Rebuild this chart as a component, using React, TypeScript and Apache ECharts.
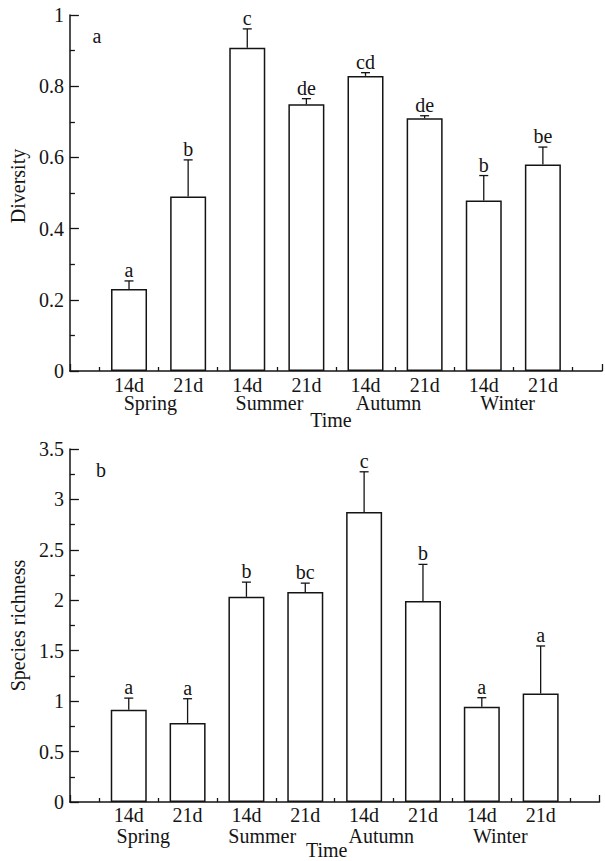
import React, { useEffect, useRef } from "react";
import * as echarts from "echarts";

const timeLabels = ["14d", "21d", "14d", "21d", "14d", "21d", "14d", "21d"];
const seasons = ["Spring", "Summer", "Autumn", "Winter"];

const diversityMean = [0.23, 0.49, 0.908, 0.749, 0.829, 0.71, 0.479, 0.58];
const diversityErr = [0.023, 0.103, 0.053, 0.016, 0.009, 0.007, 0.07, 0.049];
const diversityLetters = ["a", "b", "c", "de", "cd", "de", "b", "be"];
const diversityTicks = [0, 0.2, 0.4, 0.6, 0.8, 1];

const richnessMean = [0.915, 0.784, 2.034, 2.083, 2.876, 1.994, 0.945, 1.076];
const richnessErr = [0.115, 0.24, 0.146, 0.087, 0.398, 0.362, 0.089, 0.471];
const richnessLetters = ["a", "a", "b", "bc", "c", "b", "a", "a"];
const richnessTicks = [0, 0.5, 1, 1.5, 2, 2.5, 3, 3.5];

const FONT = "Liberation Serif";
const INK = "#141414";
const FS = 20;
const LH = 16;

// panel layout (pixels)
const panels = [
  { left: 66, top: 15, width: 536, height: 356, labelMargin: 6, seasonOffset: 18, nameGap: 39, namePad: [0, 10, 0, 0], seasonShift: -5 },
  { left: 64, top: 449, width: 535.5, height: 354.7, labelMargin: 5, seasonOffset: 18, nameGap: 38, namePad: [0, 16, 0, 0], seasonShift: -10 },
];
const SLOTS = timeLabels.length + 1;

function timeAxis(gridIndex: number, p: any) {
  return {
    type: "value",
    gridIndex,
    min: 0,
    max: SLOTS,
    interval: 1,
    axisLine: { show: true, onZero: false, lineStyle: { color: INK, width: 1.5 } },
    axisTick: { show: true, inside: true, length: 7, lineStyle: { color: INK, width: 1.3 } },
    minorTick: { show: true, splitNumber: 2, length: 4, lineStyle: { color: INK, width: 1.3 } },
    splitLine: { show: false },
    minorSplitLine: { show: false },
    axisLabel: {
      show: true,
      margin: p.labelMargin,
      color: INK,
      fontFamily: FONT,
      fontSize: FS,
      lineHeight: LH,
      formatter: (v: number) => {
        const i = Math.round(v) - 1;
        return i >= 0 && i < timeLabels.length ? timeLabels[i] : "";
      },
    },
    name: "Time",
    nameLocation: "middle",
    nameGap: p.nameGap,
    nameTextStyle: { color: INK, fontFamily: FONT, fontSize: FS, padding: p.namePad },
  };
}

function seasonAxis(gridIndex: number, p: any) {
  return {
    type: "category",
    gridIndex,
    data: seasons,
    boundaryGap: true,
    position: "bottom",
    offset: p.seasonOffset,
    axisLine: { show: false },
    axisTick: { show: false },
    splitLine: { show: false },
    axisLabel: { show: true, margin: 6, color: INK, fontFamily: FONT, fontSize: FS, lineHeight: LH, interval: 0 },
  };
}

function yAxis(gridIndex: number, ticks: number[], name: string, nameGap: number, pad: number[]) {
  return {
    type: "value",
    gridIndex,
    min: ticks[0],
    max: ticks[ticks.length - 1],
    interval: ticks[1] - ticks[0],
    axisLine: { show: true, lineStyle: { color: INK, width: 1.5 } },
    axisTick: { show: true, inside: true, length: 9, lineStyle: { color: INK, width: 1.3 } },
    minorTick: { show: true, splitNumber: 2, length: 5, lineStyle: { color: INK, width: 1.3 } },
    splitLine: { show: false },
    minorSplitLine: { show: false },
    axisLabel: { show: true, margin: 6, color: INK, fontFamily: FONT, fontSize: FS },
    name,
    nameLocation: "middle",
    nameGap,
    nameTextStyle: { color: INK, fontFamily: FONT, fontSize: FS, padding: pad },
  };
}

function hiddenY(gridIndex: number) {
  return { type: "value", gridIndex, show: false, min: 0, max: 1 };
}

function seriesFor(axisIndex: number, means: number[], errs: number[], letters: string[]) {
  const barData = means.map((m, i) => [i + 1, m]);
  const errData = means.map((m, i) => [i + 1, m, errs[i]]);
  return [
    {
      type: "bar",
      xAxisIndex: axisIndex,
      yAxisIndex: axisIndex,
      data: barData,
      barWidth: 36,
      itemStyle: { color: "#ffffff", borderColor: INK, borderWidth: 1.5 },
      z: 2,
    },
    {
      type: "custom",
      xAxisIndex: axisIndex,
      yAxisIndex: axisIndex,
      data: errData,
      clip: false,
      z: 5,
      renderItem: (params: any, api: any) => {
        const x = api.value(0);
        const m = api.value(1);
        const e = api.value(2);
        const p0 = api.coord([x, m]);
        const p1 = api.coord([x, m + e]);
        const ls = { stroke: INK, lineWidth: 1.3 };
        return {
          type: "group",
          children: [
            { type: "line", shape: { x1: p0[0], y1: p0[1], x2: p1[0], y2: p1[1] }, style: ls },
            { type: "line", shape: { x1: p1[0] - 4.5, y1: p1[1], x2: p1[0] + 4.5, y2: p1[1] }, style: ls },
            {
              type: "text",
              x: p1[0],
              y: p1[1] - 1,
              style: {
                text: letters[params.dataIndex],
                fill: INK,
                fontFamily: FONT,
                fontSize: FS,
                align: "center",
                verticalAlign: "bottom",
              },
            },
          ],
        };
      },
    },
  ];
}

export default function App() {
  const ref = useRef<HTMLDivElement>(null);
  useEffect(() => {
    if (!ref.current) return;
    const chart = echarts.init(ref.current, null, { renderer: "svg" });
    const grids = [
      ...panels.map((p) => ({ left: p.left, top: p.top, width: p.width, height: p.height })),
      ...panels.map((p) => {
        const unit = p.width / SLOTS;
        return { left: p.left + unit / 2 + p.seasonShift, top: p.top, width: unit * (SLOTS - 1), height: p.height };
      }),
    ];
    chart.setOption({
      animation: false,
      backgroundColor: "#ffffff",
      grid: grids,
      xAxis: [
        timeAxis(0, panels[0]),
        timeAxis(1, panels[1]),
        seasonAxis(2, panels[0]),
        seasonAxis(3, panels[1]),
      ],
      yAxis: [
        yAxis(0, diversityTicks, "Diversity", 37, [0, 0, 0, 14]),
        yAxis(1, richnessTicks, "Species richness", 36, [0, 0, 0, 0]),
        hiddenY(2),
        hiddenY(3),
      ],
      graphic: [
        { type: "text", x: 97, y: 36, style: { text: "a", fill: INK, fontFamily: FONT, fontSize: FS, align: "center", verticalAlign: "middle" } },
        { type: "text", x: 101, y: 470, style: { text: "b", fill: INK, fontFamily: FONT, fontSize: FS, align: "center", verticalAlign: "middle" } },
      ],
      series: [
        ...seriesFor(0, diversityMean, diversityErr, diversityLetters),
        ...seriesFor(1, richnessMean, richnessErr, richnessLetters),
      ],
    });
    return () => chart.dispose();
  }, []);
  return (
    <div
      ref={ref}
      style={{ position: "fixed", left: 0, top: 0, width: 605, height: 861, background: "#fff" }}
    />
  );
}
